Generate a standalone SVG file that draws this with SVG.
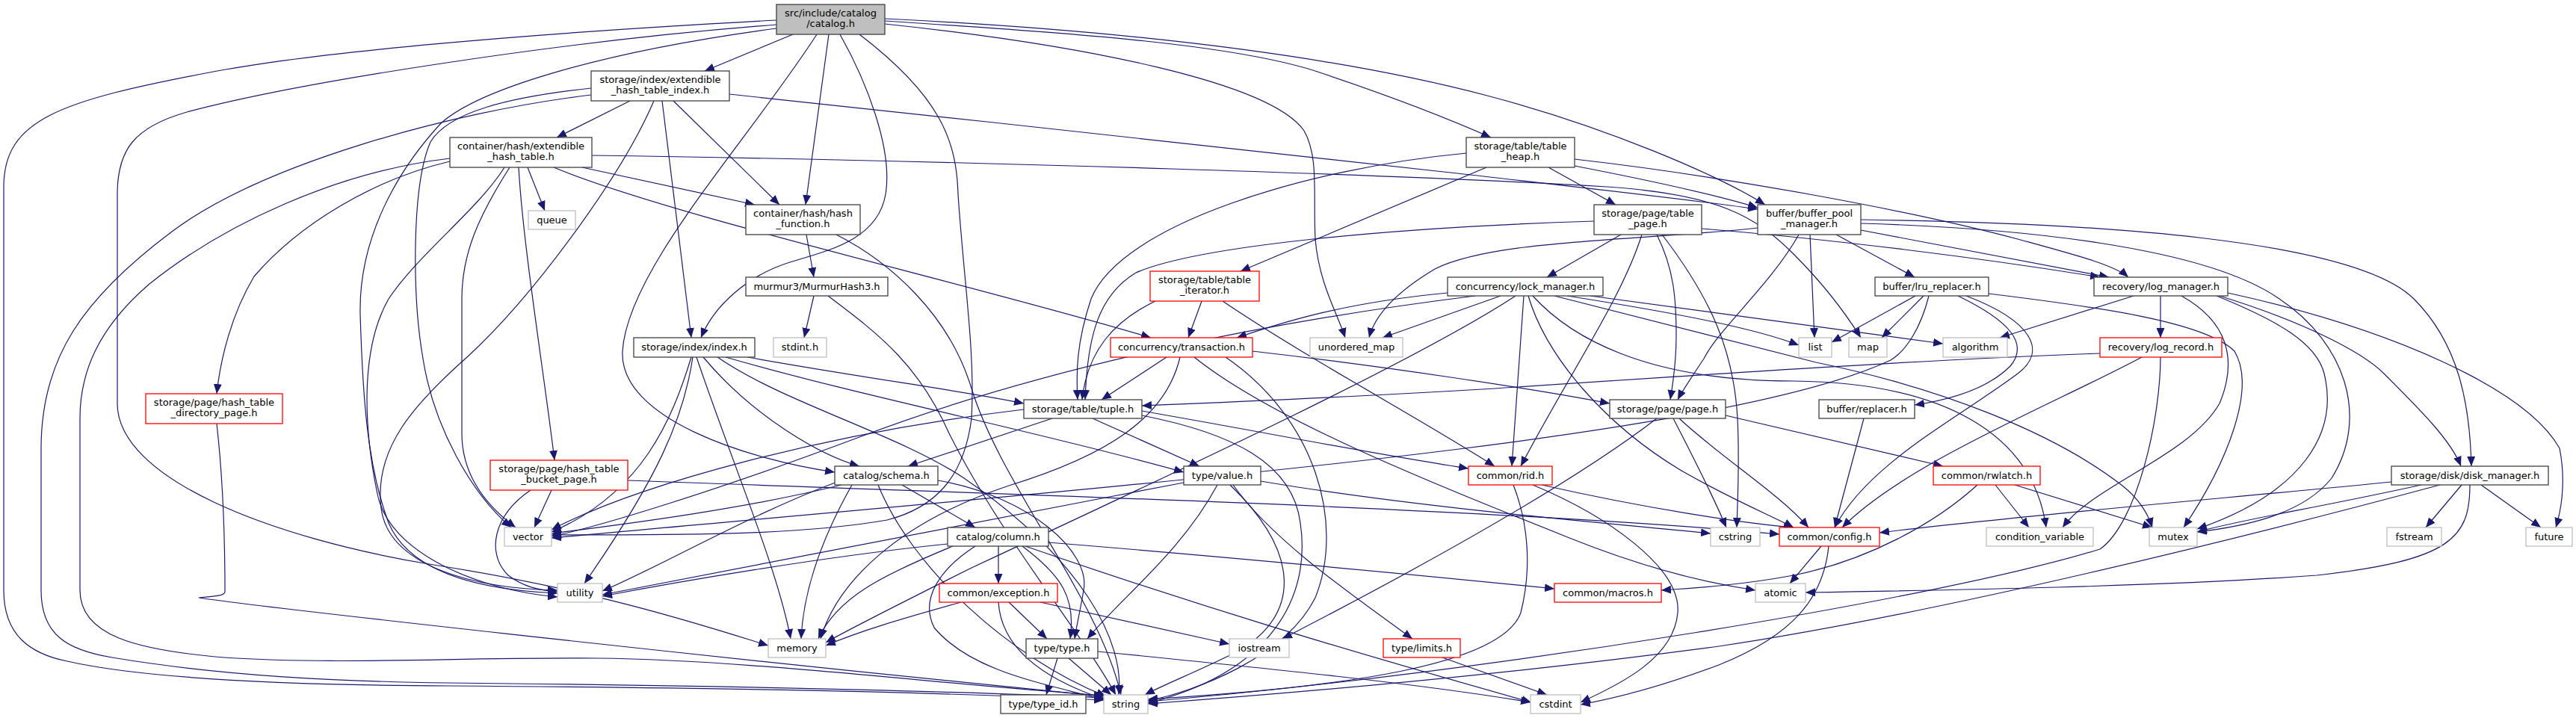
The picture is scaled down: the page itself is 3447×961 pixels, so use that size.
<svg xmlns="http://www.w3.org/2000/svg" width="3447" height="961" viewBox="0 0 3447 961">
<defs>
<marker id="ah" viewBox="0 0 13 11" refX="13" refY="5.5" markerWidth="13" markerHeight="11" markerUnits="userSpaceOnUse" orient="auto"><path d="M0,0 L13,5.5 L0,11 z" fill="#191970"/></marker>
<style>
.e{fill:none;stroke:#191970;stroke-width:1.2;marker-end:url(#ah)}
.n rect{fill:#ffffff;stroke:#404040;stroke-width:1.3}
.x rect{fill:#ffffff;stroke:#bfbfbf;stroke-width:1.3}
.r rect{fill:#ffffff;stroke:#ff0000;stroke-width:1.3}
.root rect{fill:#bfbfbf;stroke:#404040;stroke-width:1.3}
text{font-family:"DejaVu Sans","Liberation Sans",sans-serif;font-size:13px;text-anchor:middle;fill:#000000}
</style>
</defs>
<rect width="3447" height="961" fill="#ffffff"/>
<g id="edges">
<path class="e" d="M1061,46 L943,95"/>
<path class="e" d="M1093,46 C1000,190 840,360 833,470 C828,560 1000,615 1117,632"/>
<path class="e" d="M1109,46 L1078,274"/>
<path class="e" d="M1124,46 C1160,110 1195,200 1185,260 C1175,320 1110,335 1060,350 C1000,368 955,410 938,452"/>
<path class="e" d="M1150,46 C1260,130 1280,190 1282,260 C1290,380 1305,470 1300,560 C1290,640 1250,680 1187,696 C1050,720 850,715 738,716"/>
<path class="e" d="M1184,32 C1450,60 1700,110 1745,175 C1765,210 1757,260 1760,320 C1765,380 1790,420 1800,452"/>
<path class="e" d="M1184,28 C1450,45 1650,60 1760,95 C1850,125 1930,155 1995,184"/>
<path class="e" d="M1184,25 C1450,38 1750,65 1990,128 C2150,170 2300,235 2362,274"/>
<path class="e" d="M1039,27 C700,45 420,70 280,97 C80,135 5,160 5,250 L5,790 C5,850 40,875 90,885 C200,910 400,917 600,918 C900,920 1200,924 1477,937"/>
<path class="e" d="M1039,33 C750,55 400,110 250,150 C180,170 157,200 157,260 L157,540 C157,640 360,720 580,756 C800,790 950,840 1028,864"/>
<path class="e" d="M1039,38 C800,70 640,120 590,165 C530,230 480,320 482,420 C485,520 490,620 520,700 C550,770 650,790 746,794"/>
<path class="e" d="M843,135 L745,184"/>
<path class="e" d="M901,135 L1043,274"/>
<path class="e" d="M886,135 L925,452"/>
<path class="e" d="M976,126 C1300,160 1700,205 1950,232 C2150,255 2270,268 2352,280"/>
<path class="e" d="M791,127 C600,150 350,220 230,310 C110,400 55,480 55,600 L55,790 C55,850 90,870 150,880 C300,905 450,912 600,914 C900,917 1200,922 1477,934"/>
<path class="e" d="M791,118 C680,130 600,150 576,190 C550,250 552,400 566,480 C580,570 630,660 684,706"/>
<path class="e" d="M875,135 C830,240 710,400 625,478 C555,540 500,600 510,680 C520,760 640,788 746,790"/>
<path class="e" d="M706,224 L729,282"/>
<path class="e" d="M694,224 C700,330 728,500 742,616"/>
<path class="e" d="M741,224 C900,290 1300,380 1540,452"/>
<path class="e" d="M779,224 L1010,274"/>
<path class="e" d="M792,208 C1300,215 1900,235 2150,250 C2300,260 2350,290 2400,340 C2440,380 2470,420 2490,452"/>
<path class="e" d="M602,212 C450,230 300,300 200,380 C130,440 107,500 107,560 L107,790 C107,850 180,870 300,880 C450,890 600,880 800,881 C1000,883 1250,915 1477,931"/>
<path class="e" d="M602,216 C500,240 400,300 340,370 C310,420 295,480 290,527"/>
<path class="e" d="M675,224 C640,280 560,340 520,400 C480,470 488,580 505,661 C520,740 640,790 746,799"/>
<path class="e" d="M682,224 C640,290 618,340 618,400 L618,580 C618,640 655,680 690,706"/>
<path class="e" d="M1079,314 L1089,371"/>
<path class="e" d="M1119,314 C1190,350 1270,420 1300,520 C1340,650 1470,800 1500,930"/>
<path class="e" d="M1089,396 L1076,452"/>
<path class="e" d="M1108,396 C1180,450 1230,490 1270,580 C1340,720 1450,850 1493,930"/>
<path class="e" d="M925,478 C900,560 860,660 738,712"/>
<path class="e" d="M927,478 C915,560 880,640 782,781"/>
<path class="e" d="M932,478 C980,620 1040,760 1058,855"/>
<path class="e" d="M941,478 C1010,560 1100,610 1150,624"/>
<path class="e" d="M960,478 C1050,540 1200,580 1290,640 C1450,750 1505,860 1497,930"/>
<path class="e" d="M971,478 C1150,530 1400,580 1584,632"/>
<path class="e" d="M1000,478 C1150,505 1300,525 1370,540"/>
<path class="e" d="M1126,649 C1000,680 850,700 738,714"/>
<path class="e" d="M1140,649 C1100,720 1075,790 1072,855"/>
<path class="e" d="M1120,645 C1000,690 880,760 806,791"/>
<path class="e" d="M1207,649 L1305,706"/>
<path class="e" d="M1255,643 C1380,665 1460,740 1450,790 C1445,820 1440,840 1438,855"/>
<path class="e" d="M1175,649 C1220,760 1350,880 1480,932"/>
<path class="e" d="M1268,728 C1100,745 900,780 806,798"/>
<path class="e" d="M1275,731 C1180,770 1120,800 1095,855"/>
<path class="e" d="M1305,731 C1260,760 1230,800 1250,840 C1300,900 1400,915 1478,937"/>
<path class="e" d="M1336,731 L1336,781"/>
<path class="e" d="M1368,731 C1420,770 1440,800 1432,855"/>
<path class="e" d="M1372,731 C1600,810 1800,870 2049,940"/>
<path class="e" d="M1403,726 C1700,750 1950,775 2080,788"/>
<path class="e" d="M1286,806 C1200,830 1150,845 1105,864"/>
<path class="e" d="M1336,806 C1340,870 1400,910 1478,936"/>
<path class="e" d="M1350,806 L1401,855"/>
<path class="e" d="M1392,806 L1645,862"/>
<path class="e" d="M1415,881 L1400,930"/>
<path class="e" d="M1430,881 L1487,930"/>
<path class="e" d="M1469,872 C1700,895 1900,915 2048,940"/>
<path class="e" d="M1584,646 C1300,700 1000,760 806,796"/>
<path class="e" d="M1629,649 C1580,740 1500,800 1455,855"/>
<path class="e" d="M1646,649 C1740,740 1740,820 1660,870 C1600,900 1560,915 1532,930"/>
<path class="e" d="M1650,649 C1700,720 1800,790 1890,855"/>
<path class="e" d="M1687,644 C1900,680 2150,700 2289,714"/>
<path class="e" d="M1930,880 L2070,930"/>
<path class="e" d="M1370,548 C1100,580 850,650 738,709"/>
<path class="e" d="M1408,560 L1215,624"/>
<path class="e" d="M1462,560 L1605,624"/>
<path class="e" d="M1528,550 C1700,580 1850,610 1965,627"/>
<path class="e" d="M1528,556 C1650,580 1730,620 1740,700 C1755,800 1700,900 1536,941"/>
<path class="e" d="M1608,403 L1590,452"/>
<path class="e" d="M1546,403 C1490,430 1455,470 1448,535"/>
<path class="e" d="M1636,403 C1750,480 1900,560 2000,624"/>
<path class="e" d="M1561,478 L1474,535"/>
<path class="e" d="M1579,478 C1560,560 1480,610 1350,650 C1200,700 1120,780 1098,855"/>
<path class="e" d="M1598,478 C1700,560 1900,640 2100,720 C2200,760 2280,780 2349,790"/>
<path class="e" d="M1640,478 C1760,560 1800,700 1760,800 C1720,880 1600,925 1536,938"/>
<path class="e" d="M1676,470 C1850,490 2050,520 2154,540"/>
<path class="e" d="M1962,205 C1750,225 1500,300 1460,400 C1440,460 1440,500 1442,535"/>
<path class="e" d="M1989,224 L1660,363"/>
<path class="e" d="M2072,224 L2162,274"/>
<path class="e" d="M2107,213 C2300,235 2550,280 2700,320 C2780,342 2830,355 2848,371"/>
<path class="e" d="M2107,222 C2200,240 2300,262 2352,278"/>
<path class="e" d="M2133,296 C1850,305 1600,330 1520,365 C1470,395 1455,450 1452,535"/>
<path class="e" d="M2169,314 L2070,371"/>
<path class="e" d="M2197,314 C2170,400 2100,500 2035,624"/>
<path class="e" d="M2217,314 C2240,360 2243,400 2243,450 C2243,490 2238,515 2235,535"/>
<path class="e" d="M2224,314 C2290,400 2320,470 2325,560 C2328,620 2325,670 2324,706"/>
<path class="e" d="M2277,306 C2450,320 2650,345 2810,371"/>
<path class="e" d="M2352,305 C2200,322 2000,320 1920,360 C1870,390 1840,420 1832,452"/>
<path class="e" d="M2407,314 C2370,380 2300,440 2280,480 C2260,510 2250,525 2245,535"/>
<path class="e" d="M2422,314 L2428,452"/>
<path class="e" d="M2457,314 L2562,371"/>
<path class="e" d="M2490,308 L2822,371"/>
<path class="e" d="M2490,299 C2700,305 2950,330 3050,400 C3140,460 3170,560 3120,640 C3080,690 3000,705 2940,712"/>
<path class="e" d="M2490,294 C2800,298 3150,320 3230,400 C3290,460 3305,540 3307,624"/>
<path class="e" d="M1937,392 C1800,405 1720,430 1655,452"/>
<path class="e" d="M1974,396 C1700,430 1400,490 1150,585 C950,660 800,705 738,718"/>
<path class="e" d="M2008,396 L1850,452"/>
<path class="e" d="M2028,396 C1900,480 1600,620 1300,760 C1200,810 1140,840 1105,860"/>
<path class="e" d="M2039,396 L2023,624"/>
<path class="e" d="M2045,396 C2070,480 2150,570 2250,630 C2320,670 2370,690 2400,706"/>
<path class="e" d="M2051,396 C2100,450 2200,510 2400,510 C2600,512 2720,580 2738,706"/>
<path class="e" d="M2080,396 C2250,440 2350,465 2430,485 C2600,520 2750,580 2840,650 C2865,670 2875,690 2880,706"/>
<path class="e" d="M2097,396 C2250,420 2350,440 2407,462"/>
<path class="e" d="M2128,396 C2300,420 2450,440 2600,460"/>
<path class="e" d="M2563,396 L2451,458"/>
<path class="e" d="M2574,396 L2518,452"/>
<path class="e" d="M2581,396 C2570,440 2550,470 2530,482 C2300,590 1500,650 738,720"/>
<path class="e" d="M2620,396 C2690,430 2715,460 2690,490 C2660,520 2610,535 2562,542"/>
<path class="e" d="M2631,396 C2720,430 2740,470 2700,500 C2620,560 2500,620 2455,706"/>
<path class="e" d="M2661,393 C2800,410 2950,430 2990,470 C3020,520 2980,620 2922,706"/>
<path class="e" d="M2855,396 L2676,452"/>
<path class="e" d="M2891,396 L2891,452"/>
<path class="e" d="M2919,396 C2980,430 2995,480 2970,540 C2930,610 2800,650 2760,706"/>
<path class="e" d="M2970,396 C3080,430 3160,470 3190,500 C3240,550 3280,590 3293,624"/>
<path class="e" d="M2966,396 C3050,430 3100,460 3110,500 C3130,580 3080,660 2940,708"/>
<path class="e" d="M2981,392 C3200,440 3380,520 3425,600 C3435,650 3425,690 3420,706"/>
<path class="e" d="M2810,473 C2600,480 2300,500 2000,520 C1800,532 1650,538 1528,543"/>
<path class="e" d="M2866,478 C2750,540 2550,620 2465,706"/>
<path class="e" d="M2891,478 C2891,560 2860,700 2810,735 C2600,800 2000,900 1536,939"/>
<path class="e" d="M2494,560 L2455,706"/>
<path class="e" d="M2217,560 C2100,650 1900,760 1716,855"/>
<path class="e" d="M2239,560 C2270,620 2295,670 2310,706"/>
<path class="e" d="M2247,560 C2300,610 2380,660 2420,706"/>
<path class="e" d="M2309,556 L2600,624"/>
<path class="e" d="M2025,649 C2045,700 2050,760 2035,820 C2010,890 1800,920 1536,936"/>
<path class="e" d="M2051,649 C2150,690 2250,760 2245,820 C2240,880 2170,915 2115,940"/>
<path class="e" d="M2063,649 C2200,680 2330,700 2400,706"/>
<path class="e" d="M2437,731 L2395,781"/>
<path class="e" d="M2447,731 C2440,800 2400,850 2300,890 C2220,920 2160,935 2115,943"/>
<path class="e" d="M2646,649 C2590,700 2500,750 2400,770 C2330,783 2270,787 2223,790"/>
<path class="e" d="M2670,649 L2715,706"/>
<path class="e" d="M2696,649 L2880,706"/>
<path class="e" d="M710,656 C660,690 650,740 680,770 C700,785 720,790 746,792"/>
<path class="e" d="M738,656 L715,706"/>
<path class="e" d="M840,643 C1300,660 2000,680 2381,715"/>
<path class="e" d="M290,567 C296,620 301,700 301,792 C301,797 290,798 266,800 C330,810 900,875 1477,932"/>
<path class="e" d="M3200,645 C3000,665 2700,690 2515,713"/>
<path class="e" d="M3240,649 C3100,680 3000,695 2940,712"/>
<path class="e" d="M3265,649 C3000,720 2600,820 2300,865 C2000,905 1700,930 1536,942"/>
<path class="e" d="M3294,649 L3246,706"/>
<path class="e" d="M3305,649 C3305,720 3280,750 3100,770 C2900,785 2600,790 2416,793"/>
<path class="e" d="M3320,649 L3400,706"/>
</g>
<g id="catalog" class="root"><rect x="1039" y="6" width="145" height="40"/><text x="1111.5" y="21.5">src/include/catalog</text><text x="1111.5" y="36">/catalog.h</text></g>
<g id="ext_idx" class="n"><rect x="791" y="95" width="185" height="40"/><text x="883.5" y="110.5">storage/index/extendible</text><text x="883.5" y="125">_hash_table_index.h</text></g>
<g id="ext_ht" class="n"><rect x="602" y="184" width="190" height="40"/><text x="697" y="199.5">container/hash/extendible</text><text x="697" y="214">_hash_table.h</text></g>
<g id="queue" class="x"><rect x="707" y="282" width="63" height="25"/><text x="738.5" y="299">queue</text></g>
<g id="hash_fn" class="n"><rect x="998" y="274" width="153" height="40"/><text x="1074.5" y="289.5">container/hash/hash</text><text x="1074.5" y="304">_function.h</text></g>
<g id="murmur" class="n"><rect x="998" y="371" width="190" height="25"/><text x="1093" y="388">murmur3/MurmurHash3.h</text></g>
<g id="stdint" class="x"><rect x="1035" y="452" width="71" height="26"/><text x="1070.5" y="469">stdint.h</text></g>
<g id="index" class="n"><rect x="848" y="452" width="162" height="26"/><text x="929" y="469">storage/index/index.h</text></g>
<g id="dir_page" class="r"><rect x="195" y="527" width="183" height="40"/><text x="286.5" y="542.5">storage/page/hash_table</text><text x="286.5" y="557">_directory_page.h</text></g>
<g id="bucket_page" class="r"><rect x="656" y="616" width="184" height="40"/><text x="748" y="631.5">storage/page/hash_table</text><text x="748" y="646">_bucket_page.h</text></g>
<g id="vector" class="x"><rect x="675" y="706" width="63" height="25"/><text x="706.5" y="723">vector</text></g>
<g id="utility" class="x"><rect x="746" y="781" width="60" height="25"/><text x="776" y="798">utility</text></g>
<g id="memory" class="x"><rect x="1028" y="855" width="77" height="25"/><text x="1066.5" y="872">memory</text></g>
<g id="schema" class="n"><rect x="1117" y="624" width="138" height="25"/><text x="1186" y="641">catalog/schema.h</text></g>
<g id="tuple" class="n"><rect x="1370" y="535" width="158" height="25"/><text x="1449" y="552">storage/table/tuple.h</text></g>
<g id="value" class="n"><rect x="1584" y="624" width="103" height="25"/><text x="1635.5" y="641">type/value.h</text></g>
<g id="column" class="n"><rect x="1268" y="706" width="135" height="25"/><text x="1335.5" y="723">catalog/column.h</text></g>
<g id="exception" class="r"><rect x="1257" y="781" width="158" height="25"/><text x="1336" y="798">common/exception.h</text></g>
<g id="type" class="n"><rect x="1373" y="855" width="96" height="26"/><text x="1421" y="872">type/type.h</text></g>
<g id="iostream" class="x"><rect x="1645" y="855" width="80" height="25"/><text x="1685" y="872">iostream</text></g>
<g id="type_id" class="n"><rect x="1339" y="930" width="114" height="25"/><text x="1396" y="947">type/type_id.h</text></g>
<g id="string" class="x"><rect x="1477" y="930" width="59" height="25"/><text x="1506.5" y="947">string</text></g>
<g id="table_iter" class="r"><rect x="1539" y="363" width="146" height="40"/><text x="1612" y="378.5">storage/table/table</text><text x="1612" y="393">_iterator.h</text></g>
<g id="transaction" class="r"><rect x="1486" y="452" width="190" height="26"/><text x="1581" y="469">concurrency/transaction.h</text></g>
<g id="table_heap" class="n"><rect x="1962" y="184" width="145" height="40"/><text x="2034.5" y="199.5">storage/table/table</text><text x="2034.5" y="214">_heap.h</text></g>
<g id="table_page" class="n"><rect x="2133" y="274" width="144" height="40"/><text x="2205" y="289.5">storage/page/table</text><text x="2205" y="304">_page.h</text></g>
<g id="lock_mgr" class="n"><rect x="1937" y="371" width="208" height="25"/><text x="2041" y="388">concurrency/lock_manager.h</text></g>
<g id="unordered_map" class="x"><rect x="1753" y="452" width="124" height="26"/><text x="1815" y="469">unordered_map</text></g>
<g id="bpm" class="n"><rect x="2352" y="274" width="138" height="40"/><text x="2421" y="289.5">buffer/buffer_pool</text><text x="2421" y="304">_manager.h</text></g>
<g id="lru" class="n"><rect x="2509" y="371" width="152" height="25"/><text x="2585" y="388">buffer/lru_replacer.h</text></g>
<g id="log_mgr" class="n"><rect x="2802" y="371" width="179" height="25"/><text x="2891.5" y="388">recovery/log_manager.h</text></g>
<g id="list" class="x"><rect x="2407" y="452" width="44" height="26"/><text x="2429" y="469">list</text></g>
<g id="map" class="x"><rect x="2474" y="452" width="51" height="26"/><text x="2499.5" y="469">map</text></g>
<g id="algorithm" class="x"><rect x="2600" y="452" width="86" height="26"/><text x="2643" y="469">algorithm</text></g>
<g id="log_record" class="r"><rect x="2810" y="452" width="163" height="26"/><text x="2891.5" y="469">recovery/log_record.h</text></g>
<g id="page" class="n"><rect x="2154" y="535" width="155" height="25"/><text x="2231.5" y="552">storage/page/page.h</text></g>
<g id="rid" class="r"><rect x="1965" y="624" width="112" height="25"/><text x="2021" y="641">common/rid.h</text></g>
<g id="macros" class="r"><rect x="2080" y="781" width="143" height="25"/><text x="2151.5" y="798">common/macros.h</text></g>
<g id="limits" class="r"><rect x="1851" y="855" width="103" height="25"/><text x="1902.5" y="872">type/limits.h</text></g>
<g id="cstdint" class="x"><rect x="2048" y="930" width="67" height="25"/><text x="2081.5" y="947">cstdint</text></g>
<g id="replacer" class="n"><rect x="2434" y="535" width="128" height="25"/><text x="2498" y="552">buffer/replacer.h</text></g>
<g id="rwlatch" class="r"><rect x="2587" y="624" width="143" height="25"/><text x="2658.5" y="641">common/rwlatch.h</text></g>
<g id="cstring" class="x"><rect x="2289" y="706" width="66" height="25"/><text x="2322" y="723">cstring</text></g>
<g id="config" class="r"><rect x="2381" y="706" width="134" height="25"/><text x="2448" y="723">common/config.h</text></g>
<g id="cond_var" class="x"><rect x="2658" y="706" width="143" height="25"/><text x="2729.5" y="723">condition_variable</text></g>
<g id="atomic" class="x"><rect x="2349" y="781" width="67" height="25"/><text x="2382.5" y="798">atomic</text></g>
<g id="disk_mgr" class="n"><rect x="3200" y="624" width="210" height="25"/><text x="3305" y="641">storage/disk/disk_manager.h</text></g>
<g id="mutex" class="x"><rect x="2876" y="706" width="64" height="25"/><text x="2908" y="723">mutex</text></g>
<g id="fstream" class="x"><rect x="3194" y="706" width="73" height="25"/><text x="3230.5" y="723">fstream</text></g>
<g id="future" class="x"><rect x="3380" y="706" width="62" height="25"/><text x="3411" y="723">future</text></g>
</svg>
